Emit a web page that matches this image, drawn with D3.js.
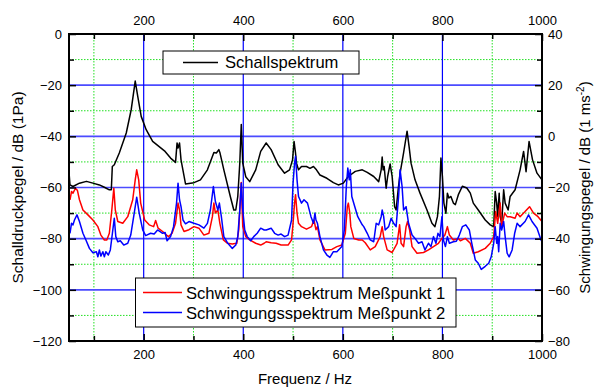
<!DOCTYPE html>
<html><head><meta charset="utf-8">
<script src="https://cdn.jsdelivr.net/npm/d3@7"></script>
<style>body{margin:0;background:#fff}svg{display:block}text{font-family:"Liberation Sans",Arial,sans-serif}</style>
</head><body><svg id="c" width="594" height="389"></svg>
<script>
// Frequenz / Hz
const xMajorTicks = [200, 400, 600, 800, 1000];
const xMinorTicks = [100, 300, 500, 700, 900];
const yLeftMajor = [0, -20, -40, -60, -80, -100, -120];
const yLeftMinor = [-10, -30, -50, -70, -90, -110];
const yRightMajor = [40, 20, 0, -20, -40, -60, -80];
const yRightMinor = [30, 10, -10, -30, -50, -70];

// Schallspektrum, dB (1Pa) [Hz, dB]
const schall = [[50,-54],[52,-59],[58,-59.6],[71,-58.3],[85,-57.6],[98,-58.3],[111,-59],[121,-59.9],[131,-60.9],[135,-60.9],[137,-51.8],[141,-51.1],[151,-46.5],[165,-38.7],[175,-29.5],[183,-18.4],[188,-24.3],[195,-32.2],[205,-37.4],[218,-42],[243,-45.9],[254,-48.5],[264,-50.2],[267,-42.6],[269,-44.6],[272,-42.6],[275,-49.2],[284,-58.6],[301,-58.1],[314,-57],[328,-53.1],[341,-46.3],[346,-46.5],[351,-45.2],[353,-46.3],[361,-53.1],[374,-63.5],[381,-68.8],[385,-68.8],[389,-63.5],[393,-50.5],[396,-35.4],[399,-50.5],[405,-55.8],[413,-57.7],[425,-53.1],[435,-45.9],[446,-42.6],[456,-45.2],[470,-51.1],[483,-54.4],[493,-53.1],[499,-49.2],[502,-42],[505,-46.6],[507,-50.5],[511,-53.1],[517,-51.8],[527,-51.8],[534,-52.5],[541,-51.8],[547,-53.1],[554,-55.1],[568,-56.4],[581,-58.1],[591,-59],[601,-58.3],[611,-55.7],[625,-53.7],[639,-53.1],[649,-54.1],[662,-55.7],[672,-57.7],[677,-53.1],[679,-48.1],[681,-53.1],[683,-51.8],[687,-60.3],[690,-55.7],[695,-50.8],[699,-55.7],[704,-67.5],[707,-68.8],[711,-61],[715,-54.4],[722,-46.5],[729,-38],[733,-43.9],[737,-50.5],[745,-57],[755,-62.2],[769,-68.8],[779,-74],[785,-75.3],[790,-71.4],[794,-63.5],[797,-48.5],[800,-55.7],[803,-66.1],[807,-70.1],[810,-62.2],[813,-64.1],[817,-63.5],[822,-66.1],[826,-66.7],[832,-62.8],[840,-59.5],[849,-60.2],[856,-62.2],[862,-66.1],[872,-68.8],[886,-72.7],[896,-74.6],[903,-75.3],[906,-61.6],[909,-66.1],[911,-71.4],[914,-62.2],[916,-71.4],[919,-74],[923,-60.9],[926,-66.1],[932,-68.8],[936,-63.5],[946,-60.9],[956,-53.1],[963,-45.9],[968,-53.8],[974,-42],[981,-49.2],[990,-54.4],[1000,-57]];

// Schwingungsspektrum Meßpunkt 1, dB (1 ms^-2)
const punkt1 = [[52,-24.8],[55,-21.6],[58,-22.2],[63,-20.3],[67,-21.2],[71,-24.8],[78,-28.8],[88,-30.7],[98,-32.7],[108,-35.3],[114,-38.6],[121,-40.5],[126,-40.5],[131,-37.9],[136,-28.8],[140,-20.3],[143,-28.8],[148,-33.3],[158,-34],[168,-31.4],[178,-24.8],[183,-17],[186,-13.1],[190,-17],[194,-26.1],[202,-32.7],[211,-34.6],[220,-35.3],[224,-32.9],[229,-35.9],[238,-37.2],[246,-38.6],[250,-39.2],[257,-37.9],[264,-34],[269,-26.1],[272,-28.8],[275,-34.6],[281,-37.2],[291,-36.5],[301,-35.3],[311,-35.9],[321,-38.6],[331,-37.9],[338,-31.4],[341,-26.1],[344,-30],[349,-28.8],[353,-34],[360,-40.5],[368,-41.8],[378,-42.1],[387,-41.8],[391,-36.5],[394,-25],[396,-18],[399,-35.3],[405,-39.2],[413,-40.5],[425,-41.8],[435,-42.5],[442,-41.8],[446,-41.2],[456,-41.6],[466,-41.8],[476,-42.5],[490,-42.5],[497,-40.5],[500,-34],[503,-26.1],[505,-22.8],[508,-30],[511,-34],[517,-35.3],[527,-36.3],[537,-35.3],[542,-32.7],[546,-36.5],[549,-35.3],[554,-40.5],[564,-44.4],[578,-44.2],[588,-43.1],[598,-42.5],[605,-37.9],[609,-27.5],[611,-26.1],[614,-30],[616,-35.3],[622,-39.9],[632,-40.5],[639,-40.5],[645,-41.6],[655,-44.4],[665,-43.1],[675,-39.2],[679,-35.3],[682,-39.2],[689,-44.4],[699,-45.4],[709,-41.8],[714,-34.6],[717,-41.8],[722,-43.1],[727,-35.3],[730,-33.3],[734,-36.5],[739,-43.1],[749,-45.7],[762,-45.4],[772,-44.4],[782,-43.1],[792,-41.8],[799,-39.9],[805,-38.6],[810,-35.3],[814,-38.6],[822,-40.5],[832,-39.9],[836,-40.8],[846,-39.9],[856,-41.8],[862,-45.7],[872,-45.1],[886,-43.8],[896,-41.8],[903,-39.2],[907,-29.4],[911,-34],[916,-26.1],[919,-35.3],[925,-30],[930,-31.4],[936,-31.4],[946,-32],[950,-30],[956,-31.4],[966,-29.4],[975,-27.5],[983,-30],[992,-31.4],[1000,-33.3]];

// Schwingungsspektrum Meßpunkt 2, dB (1 ms^-2)
const punkt2 = [[52,-37.9],[55,-34],[58,-34.6],[61,-32.7],[66,-30.7],[71,-33.3],[78,-37.9],[84,-40.5],[91,-43.8],[98,-45.5],[105,-45.1],[108,-47.1],[111,-44.4],[114,-46.8],[118,-45.1],[121,-47.1],[124,-45.1],[129,-46.4],[133,-44.4],[138,-36.6],[141,-32],[144,-39.2],[148,-41.2],[153,-40.8],[160,-42.5],[168,-41.8],[174,-38.6],[181,-30],[186,-23.8],[191,-30],[198,-36.6],[204,-38.8],[214,-37.9],[221,-38.2],[228,-36.6],[238,-37.9],[243,-37.6],[247,-40.8],[254,-39.2],[260,-35.3],[266,-26.1],[269,-18.3],[272,-24.8],[275,-27.5],[279,-32.7],[284,-34.2],[291,-33.3],[301,-34],[311,-34.6],[321,-35.9],[328,-34],[334,-28.8],[340,-19.6],[344,-25.5],[349,-28.8],[352,-26.1],[356,-31.4],[361,-39.2],[369,-41.8],[378,-43.8],[385,-42.5],[389,-39.2],[393,-28.8],[396,-18.3],[399,-28.8],[403,-36.6],[408,-39.2],[415,-40.8],[421,-39.2],[428,-37.9],[435,-35.9],[442,-36.6],[446,-36.6],[456,-35.9],[463,-37.9],[470,-38.6],[476,-38.2],[483,-39.2],[490,-38.6],[497,-32.7],[500,-18.3],[503,-10.5],[505,-7.8],[508,-17],[511,-23.5],[517,-26.1],[522,-24.8],[529,-26.1],[536,-31.4],[541,-34],[544,-30],[546,-32.7],[549,-34],[554,-39.2],[561,-44.4],[568,-46.4],[574,-47.3],[581,-45.1],[588,-45.1],[598,-43.1],[603,-36.6],[607,-19.6],[610,-12.4],[613,-17],[615,-13.1],[618,-23.5],[624,-27.5],[630,-31.4],[639,-34.6],[642,-35.3],[649,-37.9],[655,-40.5],[662,-41.2],[667,-34],[672,-34.6],[677,-31.4],[679,-28.8],[682,-31.4],[685,-36.6],[692,-35.3],[697,-32],[702,-34],[707,-35.3],[712,-23.5],[715,-13.1],[719,-19.6],[722,-28.8],[727,-27.5],[732,-34],[739,-38.6],[745,-39.9],[752,-41.8],[759,-41.2],[765,-44.4],[772,-41.8],[777,-43.1],[782,-39.2],[787,-41.8],[791,-37.9],[795,-39.2],[799,-31.4],[802,-40.5],[806,-43.1],[810,-39.2],[814,-41.8],[822,-41.2],[828,-41],[834,-38.6],[840,-35.3],[847,-34.6],[854,-36.6],[859,-41.8],[866,-48.3],[872,-49.6],[878,-52],[886,-50.8],[893,-49.6],[898,-47.1],[903,-41.8],[906,-35.3],[909,-41.8],[911,-39.2],[913,-45.1],[916,-34],[919,-36.6],[923,-33.3],[926,-39.2],[930,-45.7],[934,-47.1],[940,-44.4],[945,-38],[950,-34],[956,-35.3],[966,-33.3],[973,-30.7],[980,-33.3],[990,-35.9],[998,-40.5],[1000,-41.2]];

const legendTop = ["Schallspektrum"];
const legendBottom = ["Schwingungsspektrum Meßpunkt 1", "Schwingungsspektrum Meßpunkt 2"];

const svg = d3.select("#c");
const L = 69, R = 542, T = 34, B = 341;
const x = d3.scaleLinear().domain([50, 1000]).range([L, R]);
const yL = d3.scaleLinear().domain([-120, 0]).range([B, T]);
const yR = d3.scaleLinear().domain([-80, 40]).range([B, T]);

// grid
const g = svg.append("g");
g.selectAll(".gm").data(yLeftMinor).enter().append("line")
  .attr("x1", L).attr("x2", R).attr("y1", d => yL(d)).attr("y2", d => yL(d))
  .attr("stroke", "#22e022").attr("stroke-width", 1).attr("stroke-dasharray", "1.5,1.5");
g.selectAll(".gv").data(xMinorTicks).enter().append("line")
  .attr("y1", T).attr("y2", B).attr("x1", d => x(d)).attr("x2", d => x(d))
  .attr("stroke", "#22e022").attr("stroke-width", 1).attr("stroke-dasharray", "1.5,1.5");
g.selectAll(".hm").data(yLeftMajor.filter(d => d > -120 && d < 0)).enter().append("line")
  .attr("x1", L).attr("x2", R).attr("y1", d => yL(d)).attr("y2", d => yL(d))
  .attr("stroke", "#4b4bff").attr("stroke-width", 1.6);
g.selectAll(".vm").data(xMajorTicks.filter(d => d < 1000)).enter().append("line")
  .attr("y1", T).attr("y2", B).attr("x1", d => x(d)).attr("x2", d => x(d))
  .attr("stroke", "#0000ff").attr("stroke-width", 1.2);

// lines
const lineL = d3.line().x(d => x(d[0])).y(d => yL(d[1]));
const lineR = d3.line().x(d => x(d[0])).y(d => yR(d[1]));
svg.append("path").datum(schall).attr("d", lineL).attr("fill", "none").attr("stroke", "#000").attr("stroke-width", 1.5).attr("stroke-linejoin", "round");
svg.append("path").datum(punkt1).attr("d", lineR).attr("fill", "none").attr("stroke", "#ff0000").attr("stroke-width", 1.5).attr("stroke-linejoin", "round");
svg.append("path").datum(punkt2).attr("d", lineR).attr("fill", "none").attr("stroke", "#0000ff").attr("stroke-width", 1.5).attr("stroke-linejoin", "round");

// axes
function styleAxis(sel) {
  sel.select(".domain").remove();
  sel.selectAll(".tick line").attr("stroke", "#000").attr("stroke-width", 1.5);
  sel.selectAll("text").attr("font-size", 13).attr("fill", "#000").attr("font-family", "Liberation Sans, Arial, sans-serif");
}
function addAxis(gen, tx, ty) {
  const a = svg.append("g").attr("transform", `translate(${tx},${ty})`).call(gen);
  styleAxis(a);
  return a;
}
addAxis(d3.axisBottom(x).tickValues(xMajorTicks).tickSize(-7).tickSizeOuter(0).tickPadding(9).tickFormat(d3.format("d")), 0, B);
addAxis(d3.axisBottom(x).tickValues(xMinorTicks).tickSize(-5).tickSizeOuter(0).tickFormat(""), 0, B);
addAxis(d3.axisTop(x).tickValues(xMajorTicks).tickSize(-7).tickSizeOuter(0).tickPadding(9).tickFormat(d3.format("d")), 0, T);
addAxis(d3.axisTop(x).tickValues(xMinorTicks).tickSize(-5).tickSizeOuter(0).tickFormat(""), 0, T);
addAxis(d3.axisLeft(yL).tickValues(yLeftMajor).tickSize(-7).tickSizeOuter(0).tickPadding(7).tickFormat(d3.format("d")), L, 0);
addAxis(d3.axisLeft(yL).tickValues(yLeftMinor).tickSize(-5).tickSizeOuter(0).tickFormat(""), L, 0);
addAxis(d3.axisRight(yR).tickValues(yRightMajor).tickSize(-7).tickSizeOuter(0).tickPadding(6).tickFormat(d3.format("d")), R, 0);
addAxis(d3.axisRight(yR).tickValues(yRightMinor).tickSize(-5).tickSizeOuter(0).tickFormat(""), R, 0);

svg.append("rect").attr("x", L).attr("y", T).attr("width", R - L).attr("height", B - T)
  .attr("fill", "none").attr("stroke", "#000").attr("stroke-width", 2);

// titles
svg.append("text").attr("x", 305).attr("y", 384).attr("text-anchor", "middle").attr("font-size", 15).text("Frequenz / Hz");
svg.append("text").attr("transform", `translate(23,${(T + B) / 2}) rotate(-90)`).attr("text-anchor", "middle").attr("font-size", 15.5).text("Schalldruckpegel / dB (1Pa)");
const rt = svg.append("text").attr("transform", `translate(590,${(T + B) / 2}) rotate(-90)`).attr("text-anchor", "middle").attr("font-size", 15);
rt.append("tspan").text("Schwingungspegel / dB (1 ms");
rt.append("tspan").attr("font-size", 10).attr("dy", -6).text("-2");
rt.append("tspan").attr("dy", 6).text(")");

// legends
const lg1 = svg.append("g");
lg1.append("rect").attr("x", 163).attr("y", 51).attr("width", 196).attr("height", 23).attr("fill", "#fff").attr("stroke", "#000").attr("stroke-width", 1);
lg1.append("line").attr("x1", 183).attr("x2", 218).attr("y1", 62.5).attr("y2", 62.5).attr("stroke", "#000").attr("stroke-width", 1.5);
lg1.append("text").attr("x", 225).attr("y", 68).attr("font-size", 16.6).text(legendTop[0]);

const lg2 = svg.append("g");
lg2.append("rect").attr("x", 135.5).attr("y", 278).attr("width", 320.5).attr("height", 49).attr("fill", "#fff").attr("stroke", "#000").attr("stroke-width", 1);
const cols = ["#ff0000", "#0000ff"];
legendBottom.forEach((t, i) => {
  const yy = 292.5 + i * 20;
  lg2.append("line").attr("x1", 143).attr("x2", 182).attr("y1", yy).attr("y2", yy).attr("stroke", cols[i]).attr("stroke-width", 1.5);
  lg2.append("text").attr("x", 186).attr("y", yy + 6).attr("font-size", 16.6).text(t);
});
</script></body></html>
